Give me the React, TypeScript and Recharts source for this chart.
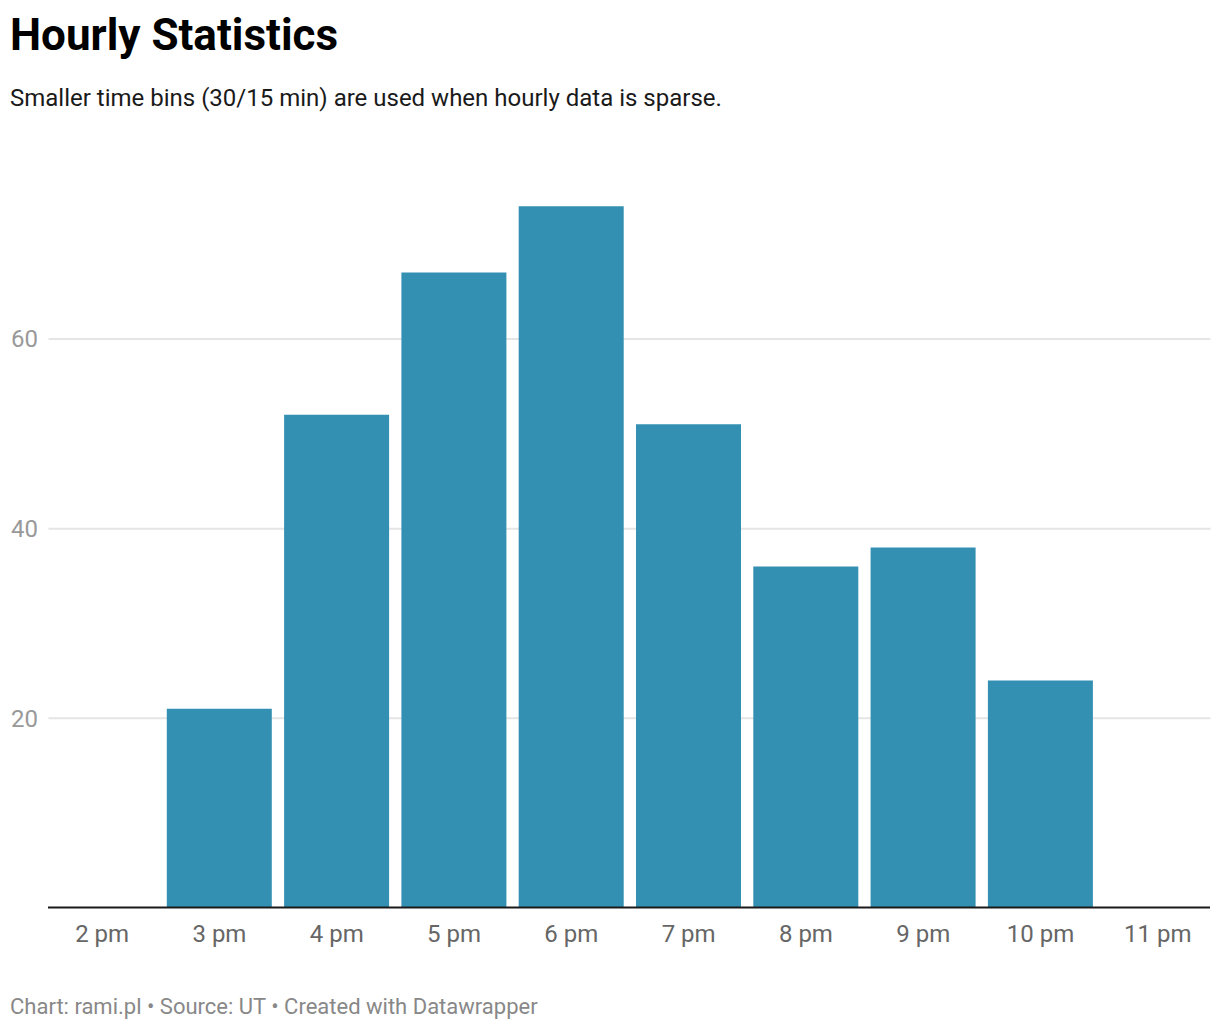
import React from 'react';
import { BarChart, Bar, XAxis, YAxis, CartesianGrid, ReferenceLine } from 'recharts';

// Hourly bins, 2 pm through 11 pm
const hours = ['2 pm', '3 pm', '4 pm', '5 pm', '6 pm', '7 pm', '8 pm', '9 pm', '10 pm', '11 pm'];
const counts = [0, 21, 52, 67, 74, 51, 36, 38, 24, 0];
const yTicks = [20, 40, 60];

const data = hours.map((hour, i) => ({ hour, count: counts[i] }));

const FONT = 'Roboto, "Noto Sans", sans-serif';

const XTick = (props: any) => {
  const { x, y, payload } = props;
  return (
    <text x={x} y={y} dy={34} textAnchor="middle" fill="#666666" fontSize={24} fontFamily={FONT}>
      {payload.value}
    </text>
  );
};

const YTick = (props: any) => {
  const { y, payload } = props;
  return (
    <text x={11} y={y} dy={8.5} textAnchor="start" fill="#999999" fontSize={24} fontFamily={FONT}>
      {payload.value}
    </text>
  );
};

// gridlines sit a little inside the band range, like the original
const GridLine = (props: any) => {
  const { x1, x2, y1, y2 } = props;
  if (y1 >= 900 || y1 <= 160) return null;
  return <line x1={x1 + 5} x2={x2 - 6} y1={y1} y2={y2} stroke="#e5e5e5" strokeWidth={2} />;
};

const BaseLine = (props: any) => {
  const { x1, x2, y1 } = props;
  return <line x1={x1 + 4.5} x2={x2 - 6.5} y1={y1 - 0.5} y2={y1 - 0.5} stroke="#1a1a1a" strokeWidth={2} />;
};

export default function App() {
  return (
    <div style={{ position: 'absolute', left: 0, top: 0, width: 1220, height: 1030, background: '#fff', fontFamily: FONT }}>
      <div style={{ position: 'absolute', left: 10, top: 13, fontSize: 44, fontWeight: 700, lineHeight: 1, color: '#000' }}>
        Hourly Statistics
      </div>
      <div style={{ position: 'absolute', left: 10, top: 86, fontSize: 24, lineHeight: 1, color: '#1a1a1a' }}>
        Smaller time bins (30/15 min) are used when hourly data is sparse.
      </div>
      <div style={{ position: 'absolute', left: 0, top: 0 }}>
        <BarChart
          width={1220}
          height={1030}
          data={data}
          margin={{ top: 149.3, right: 3.5, bottom: 82, left: 0 }}
        >
          <CartesianGrid vertical={false} horizontal={GridLine} />
          <XAxis
            dataKey="hour"
            axisLine={false}
            tickLine={false}
            tickSize={0}
            tickMargin={0}
            height={40}
            interval={0}
            tick={XTick}
          />
          <YAxis
            width={43.5}
            domain={[0, 80]}
            ticks={yTicks}
            interval={0}
            axisLine={false}
            tickLine={false}
            tick={YTick}
          />
          <Bar dataKey="count" fill="#3390b3" barSize={105} isAnimationActive={false} />
          <ReferenceLine y={0} shape={BaseLine} />
        </BarChart>
      </div>
      <div style={{ position: 'absolute', left: 10, top: 996, fontSize: 22, lineHeight: 1, color: '#888888' }}>
        Chart: rami.pl • Source: UT • Created with Datawrapper
      </div>
    </div>
  );
}
